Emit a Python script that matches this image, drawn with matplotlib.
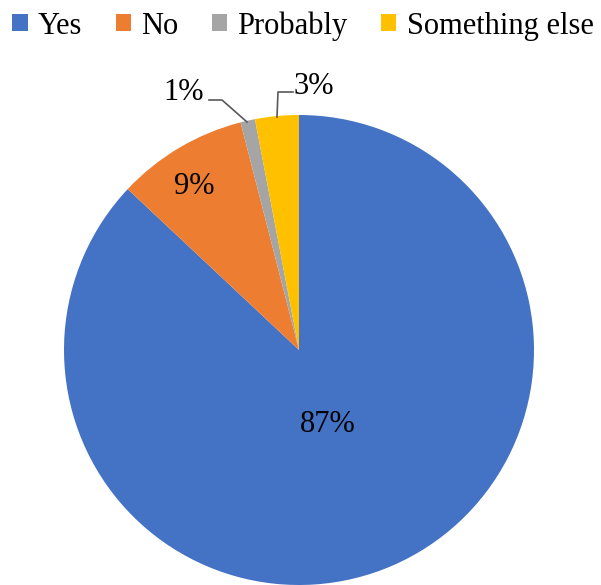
import matplotlib.pyplot as plt

labels = ['Yes', 'No', 'Probably', 'Something else']
values = [87, 9, 1, 3]
colors = ['#4472C4', '#ED7D31', '#A5A5A5', '#FFC000']

plt.rcParams['font.family'] = ['Liberation Serif', 'DejaVu Serif']

W, H = 601, 585
fig = plt.figure(figsize=(W / 100, H / 100), dpi=100)
ax = fig.add_axes([0, 0, 1, 1])

# pie in pixel-like data units, y measured upward
cx, cy, r = 299, H - 350, 235
wedges, _ = ax.pie(values, colors=colors, startangle=90, counterclock=False,
                   center=(cx, cy), radius=r, frame=True,
                   wedgeprops=dict(linewidth=0))
ax.set_xlim(0, W)
ax.set_ylim(0, H)
ax.set_aspect('equal')
ax.axis('off')

fs = 22
ax.text(328, H - 425, '{}%'.format(values[0]), fontsize=fs, ha='center', va='center')
ax.text(194, H - 186, '{}%'.format(values[1]), fontsize=fs, ha='center', va='center')
ax.text(184, H - 93, '{}%'.format(values[2]), fontsize=fs, ha='center', va='center')
ax.text(314, H - 86, '{}%'.format(values[3]), fontsize=fs, ha='center', va='center')

# leader lines for the two small slices
ax.plot([209, 222, 247], [H - 100, H - 100, H - 122], color='#595959', lw=1.2)
ax.plot([293, 278, 277], [H - 92, H - 92, H - 117], color='#595959', lw=1.2)

fig.legend(wedges, labels, loc='upper center', bbox_to_anchor=(0.504, 1.028),
           ncol=4, frameon=False, fontsize=fs, handlelength=0.5,
           handleheight=0.5, handletextpad=0.33, columnspacing=1.1)

fig.savefig('out.png', dpi=100)
